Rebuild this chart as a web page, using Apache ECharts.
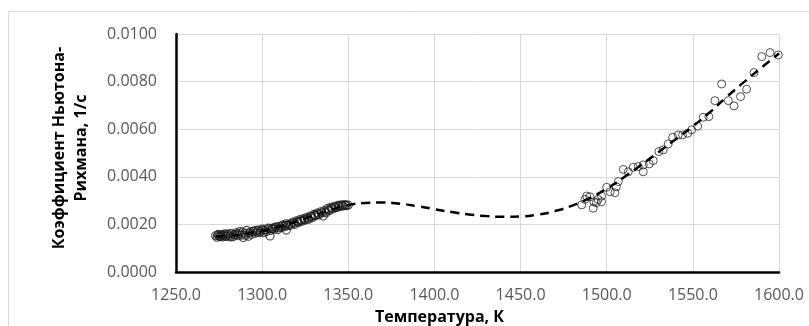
<!DOCTYPE html>
<html><head><meta charset="utf-8">
<script src="https://cdn.jsdelivr.net/npm/echarts@6/dist/echarts.min.js"></script>
<style>html,body{margin:0;padding:0;background:#fff}#c{width:809px;height:326px}</style>
</head><body><div id="c"></div>
<script>
var xTicks = [1250, 1300, 1350, 1400, 1450, 1500, 1550, 1600];
var yTicks = [0, 0.002, 0.004, 0.006, 0.008, 0.01];

// measured points: [temperature K, coefficient 1/s]
var measuredLow = [
[1273.0,0.00152],[1273.8,0.00146],[1274.5,0.00158],[1275.2,0.00150],[1276.0,0.00155],[1276.8,0.00147],
[1277.5,0.00153],[1278.4,0.00160],[1279.0,0.00149],[1280.0,0.00156],[1281.0,0.00151],[1282.0,0.00162],
[1283.0,0.00148],[1284.0,0.00158],[1285.0,0.00165],[1286.0,0.00152],[1287.0,0.00170],[1288.0,0.00155],
[1289.0,0.00145],[1290.0,0.00162],[1291.0,0.00175],[1292.0,0.00150],[1293.0,0.00168],[1294.0,0.00158],
[1295.0,0.00172],[1296.0,0.00163],[1297.0,0.00168],[1298.0,0.00176],[1299.0,0.00170],[1300.0,0.00180],
[1301.0,0.00165],[1302.0,0.00178],[1304.6,0.00151],[1304.0,0.00182],[1305.0,0.00175],[1306.0,0.00185],
[1307.0,0.00180],[1308.0,0.00190],[1309.0,0.00178],[1310.0,0.00192],[1311.0,0.00186],[1312.0,0.00198],
[1313.0,0.00190],[1314.0,0.00203],[1315.0,0.00195],[1314.0,0.00176],[1317.0,0.00205],[1318.0,0.00210],
[1319.0,0.00200],[1320.0,0.00215],[1321.0,0.00208],[1322.0,0.00220],[1323.0,0.00213],[1324.0,0.00225],
[1325.0,0.00218],[1326.0,0.00230],[1327.0,0.00222],[1328.0,0.00235],[1329.0,0.00228],[1330.0,0.00242],
[1331.0,0.00236],[1332.0,0.00248],[1333.0,0.00240],[1334.0,0.00253],[1335.5,0.00235],[1336.0,0.00258],
[1337.0,0.00248],[1338.0,0.00268],[1339.0,0.00258],[1340.0,0.00272],[1341.0,0.00265],[1342.0,0.00276],
[1343.0,0.00270],[1344.0,0.00280],[1345.0,0.00274],[1346.0,0.00282],[1347.0,0.00277],[1348.0,0.00283],
[1349.0,0.00279],[1350.0,0.00281],
[1274.2,0.00154],[1275.8,0.00149],[1277.2,0.00157],[1278.8,0.00151],[1280.5,0.00160],[1281.6,0.00147],
[1283.5,0.00155],[1285.5,0.00158],[1286.6,0.00162],[1288.6,0.00168],[1290.5,0.00154],[1292.5,0.00163],
[1294.6,0.00170],[1296.5,0.00175],[1298.5,0.00165],[1300.6,0.00174],[1302.6,0.00170],[1303.5,0.00185],
[1305.6,0.00182],[1307.6,0.00187],[1309.5,0.00185],[1311.5,0.00193],[1313.5,0.00196],[1315.5,0.00200],
[1316.5,0.00196],[1318.5,0.00205],[1320.5,0.00210],[1322.5,0.00215],[1324.5,0.00220],[1326.5,0.00225],
[1328.5,0.00232],[1330.5,0.00238],[1332.5,0.00244],[1334.5,0.00248],[1336.5,0.00252],[1338.5,0.00262],
[1340.5,0.00268],[1342.5,0.00272],[1344.5,0.00277],[1346.5,0.00279],[1348.5,0.00280]
];
var measuredHigh = [
[1485.5,0.00282],[1487.4,0.00305],[1488.4,0.00319],[1490.3,0.00316],[1492.2,0.00268],[1492.6,0.00295],
[1494.0,0.00291],[1495.0,0.00305],[1497.0,0.00319],[1497.0,0.00295],[1500.0,0.00356],[1502.0,0.00337],
[1504.8,0.00333],[1505.6,0.00358],[1506.7,0.00380],[1509.6,0.00431],[1512.5,0.00421],[1515.4,0.00440],
[1518.3,0.00443],[1521.2,0.00421],[1521.2,0.00450],[1524.7,0.00454],[1527.0,0.00468],[1530.3,0.00506],
[1532.8,0.00513],[1535.7,0.00538],[1538.3,0.00566],[1541.5,0.00576],[1544.0,0.00576],[1547.0,0.00583],
[1549.3,0.00597],[1552.8,0.00613],[1556.0,0.00650],[1559.3,0.00653],[1562.8,0.00720],[1566.7,0.00790],
[1570.6,0.00720],[1573.9,0.00698],[1577.7,0.00737],[1581.2,0.00768],[1585.5,0.00838],[1590.0,0.00905],
[1594.8,0.00922],[1599.6,0.00912]
];
// trend line
var trendT = [1273,1280,1290,1300,1310,1320,1330,1340,1350,1360,1370,1380,1390,1400,1410,1420,1430,1440,1450,1460,1470,1480,1490,1500,1510,1520,1530,1540,1550,1560,1570,1580,1590,1600];
var trendV = [0.00150,0.00152,0.00160,0.00172,0.00190,0.00212,0.00237,0.00262,0.00281,0.00290,0.00292,0.00287,0.00277,0.00264,0.00252,0.00242,0.00235,0.00232,0.00233,0.00241,0.00256,0.00279,0.00310,0.00350,0.00398,0.00450,0.00503,0.00558,0.00612,0.00672,0.00738,0.00800,0.00860,0.00918];

var chart = echarts.init(document.getElementById('c'), null, {renderer:'canvas'});
var font = '"Open Sans", sans-serif';
var trend = trendT.map(function(t,i){return [t, trendV[i]];});
chart.setOption({
  animation:false,
  graphic:[{type:'rect', shape:{x:8.5,y:11.5,width:900,height:400}, style:{fill:'none', stroke:'#d9d9d9', lineWidth:1}, z:-1}],
  grid:{left:176, right:30, top:34, bottom:54, containLabel:false, outerBoundsMode:'none'},
  xAxis:{type:'value', min:1250, max:1600, interval:50,
    axisLine:{show:true, onZero:false, lineStyle:{color:'#000', width:2.5}},
    axisTick:{show:false},
    splitLine:{show:true, lineStyle:{color:'#d9d9d9', width:1}},
    axisLabel:{color:'#595959', fontFamily:font, fontSize:16, margin:15, formatter:function(v){return v.toFixed(1);}},
    name:'Температура, К', nameLocation:'middle', nameGap:37,
    nameTextStyle:{color:'#000', fontFamily:font, fontSize:16, fontWeight:'bold', padding:[0,76,0,0]}
  },
  yAxis:{type:'value', min:0, max:0.01, interval:0.002,
    axisLine:{show:true, lineStyle:{color:'#000', width:2.5}},
    axisTick:{show:false},
    splitLine:{show:true, lineStyle:{color:'#d9d9d9', width:1}},
    axisLabel:{color:'#595959', fontFamily:font, fontSize:16, margin:19, formatter:function(v){return v.toFixed(4);}},
    name:'Коэффициент Ньютона-\nРихмана, 1/с', nameLocation:'middle', nameGap:84,
    nameTextStyle:{color:'#000', fontFamily:font, fontSize:16, fontWeight:'bold', lineHeight:22, align:'center', padding:[0,0,0,10]}
  },
  series:[
    {type:'scatter', data:measuredLow, symbol:'circle', symbolSize:8,
      itemStyle:{color:'rgba(0,0,0,0)', borderColor:'#1a1a1a', borderWidth:1.1}, z:2},
    {type:'scatter', data:measuredHigh, symbol:'circle', symbolSize:8,
      itemStyle:{color:'rgba(0,0,0,0)', borderColor:'#262626', borderWidth:1}, z:2},
    {type:'line', data:trend, smooth:true, showSymbol:false, symbol:'none',
      lineStyle:{color:'#000', width:2.5, type:[9,6]}, z:3}
  ]
});
</script></body></html>
